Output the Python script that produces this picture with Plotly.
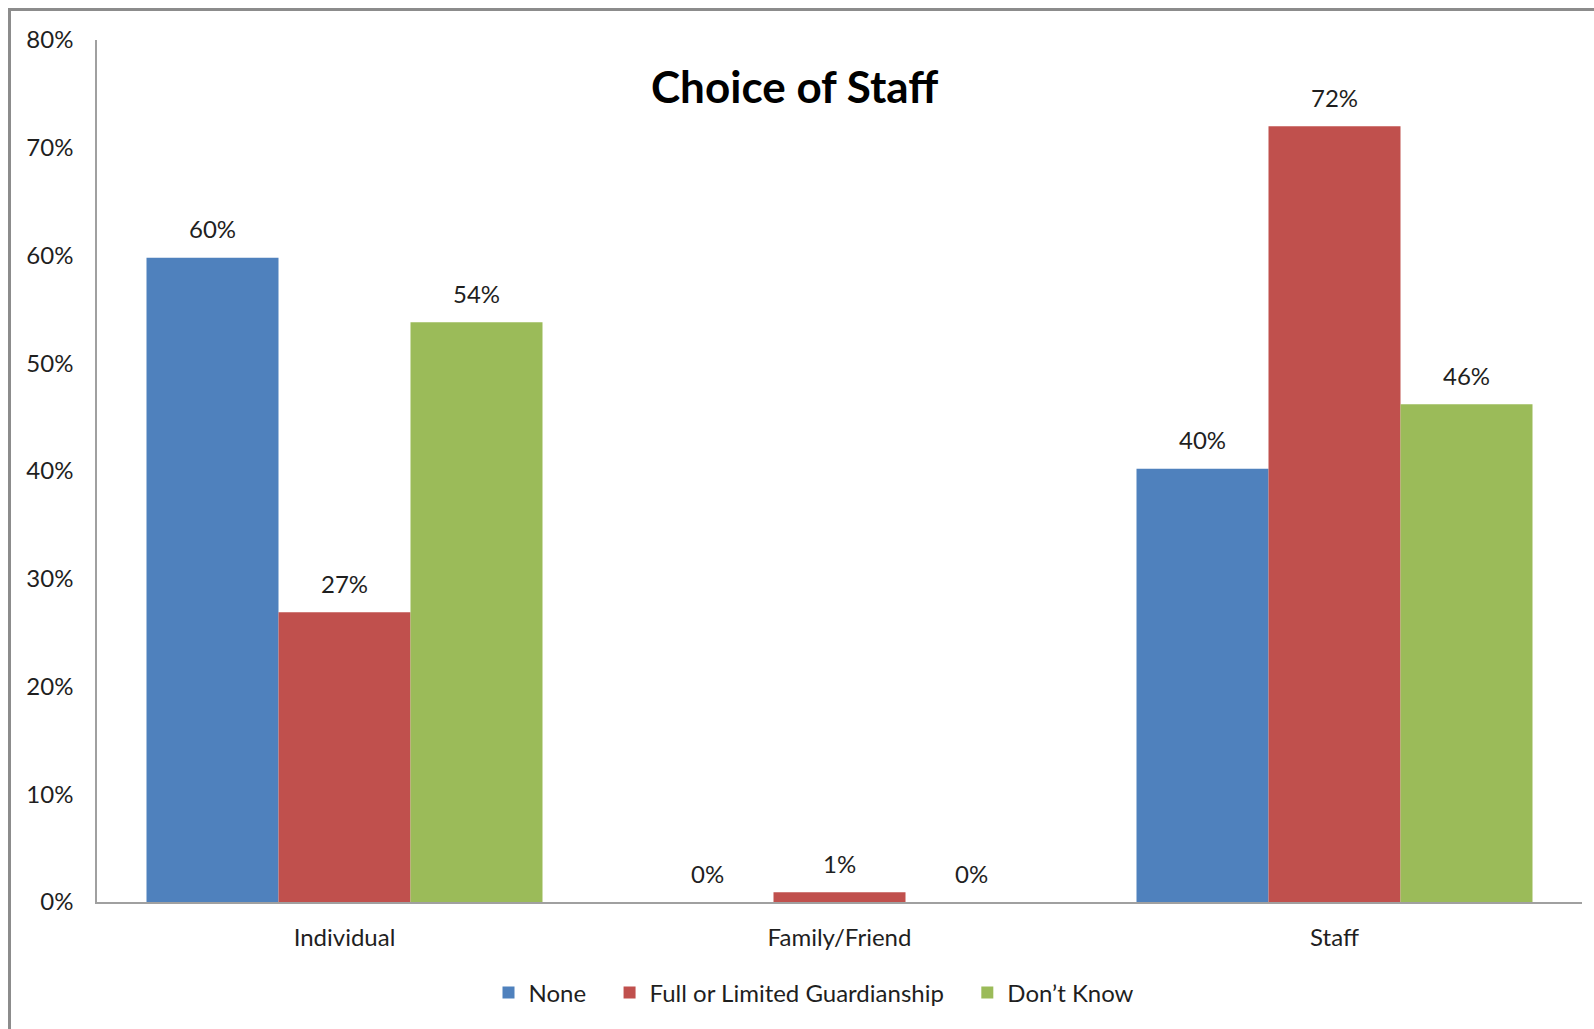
import plotly.graph_objects as go

categories = ["Individual", "Family/Friend", "Staff"]
series_names = ["None", "Full or Limited Guardianship", "Don\u2019t Know"]
none_vals = [0.598, 0.0, 0.402]
guard_vals = [0.269, 0.009, 0.720]
dk_vals = [0.538, 0.0, 0.462]
colors = ["#4F81BD", "#C0504D", "#9BBB59"]
y_ticks = [0, 0.1, 0.2, 0.3, 0.4, 0.5, 0.6, 0.7, 0.8]
title_text = "Choice of Staff"

W, H = 1594, 1029
ML, MR, MT, MB = 97, 12, 40, 127
PW, PH = W - ML - MR, H - MT - MB
FONT = "Lato"
TXT = "#1f1f1f"
PAD = "\u00a0" * 3

fig = go.Figure()
all_vals = [none_vals, guard_vals, dk_vals]
for k, (name, vals, col) in enumerate(zip(series_names, all_vals, colors)):
    legend_label = name + (PAD if k < len(series_names) - 1 else "")
    fig.add_trace(go.Bar(x=categories, y=vals, name=legend_label,
                         marker=dict(color=col, line=dict(width=0))))

bar_w = PW / len(categories) * 0.8 / 3
annotations = []
for i, vals in enumerate(all_vals):
    for c, v in zip(categories, vals):
        annotations.append(dict(x=c, y=v, xref="x", yref="y", text=f"{round(v*100):d}%",
                                showarrow=False, xshift=(i - 1) * bar_w, yshift=29,
                                yanchor="middle", font=dict(family=FONT, size=24, color=TXT)))

annotations.append(dict(text="<b>" + title_text + "</b>", xref="paper", yref="paper",
                        x=(794 - ML) / PW, y=(H - MB - 86) / PH, xanchor="center", yanchor="middle",
                        showarrow=False, font=dict(family=FONT, size=44, color="#000000")))

def px_x(p):
    return (p - ML) / PW

def px_y(p):
    return (H - MB - p) / PH

shapes = [
    dict(type="line", xref="paper", yref="paper", x0=px_x(9.5), x1=px_x(1600), y0=px_y(9.5), y1=px_y(9.5),
         line=dict(color="#8c8c8c", width=3)),
    dict(type="line", xref="paper", yref="paper", x0=px_x(9.5), x1=px_x(9.5), y0=px_y(8), y1=px_y(1040),
         line=dict(color="#8c8c8c", width=3)),
]

fig.update_layout(
    width=W, height=H,
    margin=dict(l=ML, r=MR, t=MT, b=MB, pad=0),
    paper_bgcolor="white", plot_bgcolor="white",
    barmode="group", bargap=0.2, bargroupgap=0,
    font=dict(family=FONT, size=24, color=TXT),
    showlegend=True,
    legend=dict(orientation="h", xref="container", yref="container", x=814 / W, y=1 - 993 / H,
                xanchor="center", yanchor="middle", font=dict(family=FONT, size=24, color=TXT),
                itemsizing="constant"),
    xaxis=dict(showline=True, linecolor="#a0a0a0", linewidth=1.5, showgrid=False, zeroline=False,
               ticks="", ticklabelstandoff=13, tickfont=dict(family=FONT, size=24, color=TXT),
               range=[-0.5, 2.5]),
    yaxis=dict(showline=True, linecolor="#a0a0a0", linewidth=1.5, showgrid=False, zeroline=False,
               range=[0, 0.8], tickvals=y_ticks, tickformat=".0%", ticks="", ticklabelstandoff=17,
               tickfont=dict(family=FONT, size=24, color=TXT)),
    annotations=annotations,
    shapes=shapes,
)

fig.write_html("out.html", config={"displayModeBar": False},
               post_script="document.body.style.margin='0';document.body.style.overflow='hidden';")
